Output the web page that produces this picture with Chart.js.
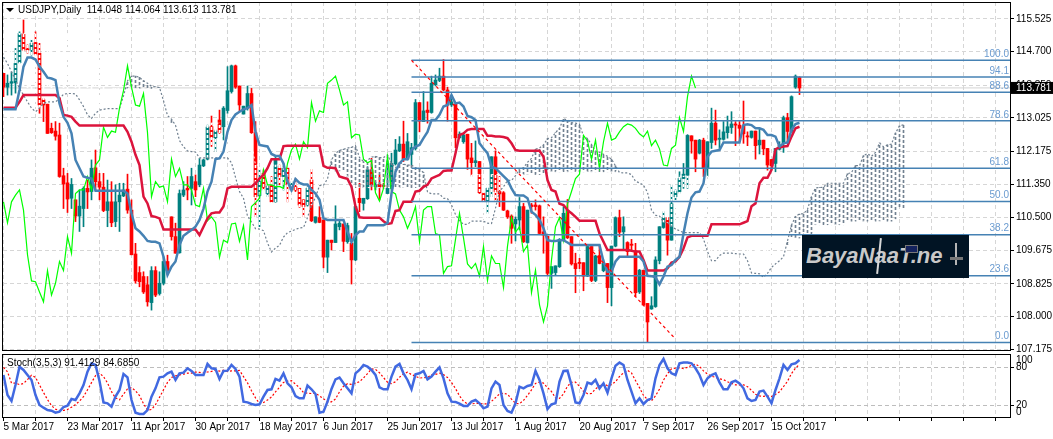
<!DOCTYPE html>
<html>
<head>
<meta charset="utf-8">
<title>USDJPY Daily</title>
<script src="https://cdn.jsdelivr.net/npm/chart.js@4/dist/chart.umd.min.js"></script>
<style>
html, body { margin: 0; padding: 0; background: #fff; overflow: hidden; }
body { width: 1053px; height: 439px; position: relative; font-family: "Liberation Sans", sans-serif; }
canvas { position: absolute; left: 0; }
#mainChart { top: 0; }
#stochChart { top: 352px; }
.label { position: absolute; font-size: 10px; line-height: 12px; color: #000; white-space: pre; }
#arrow { position: absolute; left: 6px; top: 8px; width: 0; height: 0; border-left: 4px solid transparent; border-right: 4px solid transparent; border-top: 4px solid #000; }
#logo { position: absolute; left: 802px; top: 235px; width: 167px; height: 43px; background: #011424; overflow: hidden; }
#logo span { position: absolute; left: 4px; top: 8px; font: italic bold 22px/26px "Liberation Sans", sans-serif; color: #c9c9c9; white-space: pre; }
#logo i { position: absolute; display: block; }
</style>
</head>
<body>
<canvas id="mainChart" width="1053" height="360"></canvas>
<canvas id="stochChart" width="1053" height="87"></canvas>
<div id="arrow"></div>
<div class="label" style="left:18px;top:4px">USDJPY,Daily  114.048 114.064 113.613 113.781</div>
<div class="label" style="left:7px;top:357px">Stoch(3,5,3) 91.4129 84.6850</div>
<div id="logo">
  <span>BayaNaaT.ne</span>
  <i style="left:76px;top:3px;width:2px;height:36px;background:#d8d8d8;transform:rotate(6deg)"></i>
  <i style="left:103px;top:10px;width:11px;height:6px;background:#14235e;border:1px solid #777"></i>
  <i style="left:153px;top:8px;width:2px;height:22px;background:#b5b5b5"></i>
  <i style="left:148px;top:22px;width:13px;height:3px;background:#777"></i>
</div>
<script>
const opens = [
114.15,113.80,113.90,113.91,114.42,115.14,114.77,114.74,114.93,114.66,
113.48,113.37,112.76,112.69,112.59,111.56,111.38,110.99,110.95,110.54,
110.73,111.24,111.16,111.76,111.41,111.27,110.68,110.90,110.40,110.90,
111.05,111.22,110.69,109.58,109.11,109.01,108.80,108.35,109.16,108.58,
108.84,109.39,110.52,110.02,109.61,111.07,111.24,111.24,111.41,111.33,
111.81,111.98,112.80,112.52,112.97,112.80,113.21,113.69,114.34,113.83,
113.12,113.27,113.64,112.65,111.06,111.62,111.11,111.31,110.90,111.75,
111.54,111.75,111.20,111.28,111.24,110.95,110.82,111.45,110.38,110.50,
110.44,109.50,109.93,109.87,110.27,110.34,109.89,109.85,109.43,110.99,
110.86,110.98,111.71,111.28,111.34,111.31,111.11,111.24,111.86,112.19,
112.36,111.98,112.10,112.25,113.41,112.93,113.22,113.16,113.86,113.97,
114.08,113.73,113.35,113.37,112.52,112.42,112.61,112.01,111.89,111.92,
111.11,110.90,111.24,112.04,111.16,111.13,110.67,110.54,110.34,110.44,
110.78,109.87,110.82,110.82,110.80,110.14,110.03,109.09,109.11,109.26,
109.93,110.69,110.02,109.34,109.37,109.36,109.02,109.77,108.91,109.54,
109.16,109.34,108.73,109.78,110.50,110.14,109.87,109.83,109.66,108.62,
109.17,108.33,108.19,108.25,109.41,110.25,110.50,109.93,111.03,111.16,
111.49,111.57,112.57,112.46,112.13,112.46,111.76,112.40,112.89,112.48,
112.48,112.65,112.78,112.87,112.84,112.82,112.57,112.53,112.69,112.34,
112.46,112.25,111.97,111.87,112.23,112.38,113.03,112.68,113.80,114.048];

const highs = [
114.15,114.11,114.19,114.78,115.20,115.50,114.87,114.99,115.20,114.91,
113.52,113.37,112.89,112.93,112.89,111.75,111.62,111.49,110.95,111.20,
111.28,111.45,111.96,112.21,111.62,111.62,111.45,111.41,111.33,111.37,
111.37,111.60,110.95,109.85,109.26,109.13,109.01,109.26,109.26,109.13,
109.51,109.55,110.52,110.36,111.20,111.41,111.54,111.75,111.58,112.00,
111.98,112.84,113.07,112.72,113.22,113.31,114.32,114.36,114.36,113.83,
113.32,113.83,113.77,112.93,111.71,111.71,111.33,111.54,112.04,111.83,
111.87,111.75,111.41,111.49,111.24,110.95,111.28,111.72,110.52,110.78,
110.44,109.93,109.93,110.80,110.44,110.34,110.36,110.10,110.78,111.37,
110.99,111.79,112.00,111.40,111.58,111.37,111.92,112.13,112.48,112.55,
112.94,112.63,112.38,113.49,113.41,113.69,113.43,114.08,114.11,114.28,
114.50,113.80,113.60,113.37,112.67,112.63,112.61,112.38,112.44,111.92,
111.13,111.26,112.04,112.19,111.54,111.16,110.69,110.57,110.52,111.01,
110.86,110.69,110.86,110.95,110.82,110.52,110.03,109.26,109.28,109.97,
110.78,110.96,110.02,109.60,109.47,109.36,109.78,109.77,109.55,109.81,
109.43,109.34,109.78,110.52,110.69,110.52,109.89,109.95,109.85,109.19,
109.17,108.33,108.50,109.51,110.27,110.65,110.50,111.33,111.20,111.66,
111.87,112.60,112.57,112.46,112.48,112.51,112.42,113.27,113.22,112.72,
112.93,113.07,113.18,112.93,112.93,113.45,112.67,112.69,112.69,112.76,
112.46,112.25,111.97,112.25,112.42,113.07,113.14,113.58,114.11,114.064];

const lows = [
113.56,113.60,113.60,113.65,114.40,114.72,114.66,114.61,114.61,113.14,
112.93,112.63,112.63,112.46,111.52,110.73,110.63,110.73,110.40,110.15,
110.27,110.73,110.95,111.20,110.95,110.65,110.27,110.27,110.27,110.15,
111.03,110.61,109.56,108.84,108.75,108.58,108.26,108.16,108.50,108.54,
108.80,109.05,109.93,109.60,109.60,111.03,110.95,110.82,111.03,111.28,
111.79,111.96,112.30,112.17,112.63,112.46,113.14,113.65,113.77,113.18,
113.12,113.22,112.63,110.52,110.27,111.20,111.03,110.89,110.89,111.33,
111.20,110.90,111.16,111.16,110.76,110.52,110.79,110.40,110.36,110.37,
109.23,109.11,109.68,109.87,110.19,109.64,109.85,108.82,109.41,110.65,
110.69,110.96,111.20,111.20,110.95,111.24,111.11,111.22,111.83,112.17,
111.92,111.96,111.83,112.21,112.67,112.93,112.89,113.14,113.83,113.94,
113.71,112.94,113.31,112.27,112.51,112.38,111.72,111.55,111.79,111.11,
110.90,110.61,111.03,110.90,110.78,110.68,110.48,109.85,109.91,110.19,
109.87,109.85,110.61,110.69,110.09,109.60,109.05,108.71,109.05,109.24,
109.93,109.97,109.30,108.60,109.21,108.65,109.01,108.88,108.88,109.33,
109.13,108.35,108.27,109.76,110.02,109.68,109.51,109.68,108.50,108.58,
108.29,107.36,108.18,108.23,109.33,110.23,109.55,109.93,110.95,111.12,
111.24,111.24,112.13,111.66,112.11,111.54,111.54,112.25,112.34,112.21,
112.46,112.51,112.63,112.32,112.42,112.38,112.32,112.51,111.98,112.11,
112.09,111.70,111.72,111.66,112.21,112.15,112.38,112.66,113.77,113.613];

const closes = [
113.80,113.90,113.94,114.40,115.16,114.74,114.74,114.91,114.64,113.35,
113.35,112.63,112.65,112.56,111.54,111.35,110.97,111.34,110.54,110.79,
111.24,111.15,111.75,111.41,111.27,110.68,110.90,110.37,110.90,111.07,
111.20,110.69,109.56,108.90,108.88,108.62,108.37,109.16,108.54,108.84,
109.39,109.16,110.02,109.60,111.11,111.20,111.20,111.54,111.20,111.83,
111.96,112.79,112.53,112.69,112.66,113.27,113.71,114.34,113.80,113.35,
113.32,113.64,112.65,111.03,111.41,111.27,111.30,110.90,111.98,111.54,
111.75,111.33,111.33,111.20,110.82,110.78,111.24,110.42,110.52,110.38,
109.50,109.93,109.87,110.34,110.36,109.90,110.30,109.43,110.78,110.88,
110.99,111.71,111.33,111.33,111.28,111.29,111.24,111.87,112.21,112.36,
111.98,112.42,112.27,113.41,112.94,113.20,113.16,113.90,113.98,114.08,
113.73,113.35,113.43,112.52,112.61,112.59,111.98,111.89,111.94,111.13,
110.92,111.24,112.04,111.16,111.10,110.69,110.52,110.23,110.46,110.78,
109.89,110.69,110.78,110.78,110.10,110.06,109.09,109.26,109.28,109.95,
110.61,109.99,109.33,109.21,109.34,109.02,109.77,108.91,109.53,109.34,
109.34,108.73,109.78,110.50,110.13,110.27,109.64,109.80,108.60,109.17,
108.29,107.86,108.27,109.43,110.27,110.50,109.93,110.85,111.16,111.49,
111.60,112.58,112.44,111.98,112.46,111.76,112.42,112.89,112.46,112.51,
112.67,112.80,112.87,112.84,112.76,112.62,112.54,112.69,112.32,112.46,
112.24,111.83,111.81,112.25,112.33,113.03,112.68,113.56,114.08,113.781];

const tenkan = [
113.24,113.24,113.24,113.24,113.73,114.32,114.55,114.55,114.50,114.32,
114.19,114.04,114.02,113.98,113.39,113.05,112.90,112.63,111.96,111.75,
111.54,111.51,111.49,111.18,111.18,111.18,111.18,111.18,111.18,111.18,
111.18,111.11,110.61,110.23,110.15,110.04,109.91,109.89,109.89,109.85,
109.51,109.05,109.26,109.39,109.81,110.04,110.12,110.19,110.27,110.44,
110.73,111.16,111.41,111.98,112.00,112.17,112.67,112.97,113.11,113.18,
113.24,113.27,113.35,112.67,112.34,112.32,112.30,112.11,112.06,112.06,
111.87,111.41,111.20,111.48,111.38,111.34,111.34,111.20,111.11,110.95,
110.48,110.44,110.44,110.44,110.44,110.44,110.15,109.88,110.06,110.15,
110.15,110.31,110.31,110.31,110.31,110.31,110.36,111.11,111.66,111.87,
111.98,111.98,112.21,112.30,112.34,112.51,112.67,112.97,112.97,113.10,
113.31,113.35,113.60,113.39,113.41,113.31,113.07,113.04,112.97,112.38,
112.25,112.13,111.79,111.75,111.65,111.55,111.45,111.24,111.07,111.06,
111.06,110.99,110.65,110.57,110.44,110.23,109.93,109.91,109.91,109.93,
109.93,109.87,109.81,109.81,109.81,109.81,109.81,109.81,109.81,109.81,
109.39,109.13,109.13,109.39,109.51,109.51,109.51,109.51,109.51,109.51,
109.39,109.03,109.02,108.99,108.81,109.01,109.26,109.30,109.43,109.51,
110.10,110.61,111.01,111.14,111.16,111.37,112.04,112.17,112.19,112.21,
112.40,112.40,112.40,112.40,112.40,112.84,112.86,112.84,112.76,112.76,
112.72,112.59,112.59,112.55,112.30,112.38,112.40,112.72,112.87,112.90];

const kijun = [
113.28,113.28,113.28,113.28,113.43,113.60,113.60,113.60,113.60,113.60,
113.60,113.60,113.60,113.60,113.52,113.10,113.08,113.05,112.93,112.83,
112.83,112.83,112.83,112.83,112.83,112.83,112.83,112.83,112.83,112.83,
112.83,112.67,112.42,112.09,111.83,111.03,110.86,110.54,110.52,110.48,
110.20,110.20,110.20,110.20,110.20,110.20,110.20,110.20,110.20,110.06,
110.27,110.48,110.61,110.63,110.63,110.78,111.24,111.28,111.28,111.28,
111.28,111.28,111.28,111.37,111.49,111.58,111.75,111.98,111.98,111.98,
112.31,112.32,112.32,112.32,112.32,112.32,112.32,112.32,112.32,112.32,
111.81,111.76,111.76,111.75,111.54,111.51,111.48,111.28,110.78,110.51,
110.50,110.50,110.50,110.50,110.50,110.41,110.34,110.36,110.67,110.69,
110.90,110.90,110.90,111.16,111.18,111.28,111.33,111.49,111.54,111.58,
111.68,111.69,111.69,112.13,112.59,112.63,112.72,112.74,112.74,112.74,
112.74,112.57,112.57,112.55,112.55,112.54,112.51,112.38,112.21,112.19,
112.19,112.19,112.19,112.19,112.19,112.04,111.45,111.20,111.16,110.85,
110.82,110.69,110.61,110.52,110.42,110.42,110.42,110.42,110.42,110.10,
109.89,109.68,109.68,109.68,109.68,109.68,109.68,109.66,109.64,109.64,
109.43,109.16,109.16,109.16,109.16,109.16,109.22,109.36,109.39,109.51,
109.72,110.00,110.04,110.04,110.04,110.04,110.04,110.33,110.33,110.33,
110.33,110.33,110.33,110.33,110.33,110.37,110.41,110.79,110.86,111.37,
111.51,111.51,111.71,112.23,112.28,112.30,112.31,112.55,112.76,112.80];

const chikou = [
110.90,110.37,110.90,111.07,
111.20,110.69,109.56,108.90,108.88,108.62,108.37,109.16,108.54,108.84,
109.39,109.16,110.02,109.60,111.11,111.20,111.20,111.54,111.20,111.83,
111.96,112.79,112.53,112.69,112.66,113.27,113.71,114.34,113.80,113.35,
113.32,113.64,112.65,111.03,111.41,111.27,111.30,110.90,111.98,111.54,
111.75,111.33,111.33,111.20,110.82,110.78,111.24,110.42,110.52,110.38,
109.50,109.93,109.87,110.34,110.36,109.90,110.30,109.43,110.78,110.88,
110.99,111.71,111.33,111.33,111.28,111.29,111.24,111.87,112.21,112.36,
111.98,112.42,112.27,113.41,112.94,113.20,113.16,113.90,113.98,114.08,
113.73,113.35,113.43,112.52,112.61,112.59,111.98,111.89,111.94,111.13,
110.92,111.24,112.04,111.16,111.10,110.69,110.52,110.23,110.46,110.78,
109.89,110.69,110.78,110.78,110.10,110.06,109.09,109.26,109.28,109.95,
110.61,109.99,109.33,109.21,109.34,109.02,109.77,108.91,109.53,109.34,
109.34,108.73,109.78,110.50,110.13,110.27,109.64,109.80,108.60,109.17,
108.29,107.86,108.27,109.43,110.27,110.50,109.93,110.85,111.16,111.49,
111.60,112.58,112.44,111.98,112.46,111.76,112.42,112.89,112.46,112.51,
112.67,112.80,112.87,112.84,112.76,112.62,112.54,112.69,112.32,112.46,
112.24,111.83,111.81,112.25,112.33,113.03,112.68,113.56,114.08,113.781];

const spanA = [
114.56,114.40,114.19,113.98,113.77,113.60,113.43,113.27,113.18,113.27,
113.39,113.43,113.43,113.43,113.50,113.62,113.64,113.64,113.63,113.48,
113.31,113.10,113.01,113.14,113.22,113.24,
113.26,113.26,113.26,113.26,113.58,113.96,114.08,114.08,114.05,113.96,
113.90,113.82,113.81,113.79,113.46,113.08,112.99,112.84,112.45,112.29,
112.19,112.17,112.16,112.01,112.01,112.01,112.01,112.01,112.01,112.01,
112.01,111.89,111.52,111.16,110.99,110.54,110.39,110.22,110.21,110.17,
109.86,109.63,109.73,109.80,110.01,110.12,110.16,110.20,110.24,110.25,
110.50,110.82,111.01,111.31,111.32,111.48,111.96,112.13,112.20,112.23,
112.26,112.28,112.32,112.02,111.92,111.95,112.03,112.05,112.02,112.02,
112.09,111.87,111.76,111.90,111.85,111.83,111.83,111.76,111.72,111.64,
111.15,111.10,111.10,111.10,110.99,110.98,110.82,110.58,110.42,110.33,
110.33,110.41,110.41,110.41,110.41,110.36,110.35,110.74,111.17,111.28,
111.44,111.44,111.56,111.73,111.76,111.90,112.00,112.23,112.26,112.34,
112.50,112.52,112.65,112.76,113.00,112.97,112.90,112.89,112.86,112.56,
112.50,112.35,112.18,112.15,112.10,112.05,111.98,111.81,111.64,111.63,
111.63,111.59,111.42,111.38,111.32,111.14,110.69,110.56,110.54,110.39,
110.38,110.28,110.21,110.17,110.12,110.12,110.12,110.12,110.12,109.96,
109.64,109.41,109.41,109.54,109.60,109.60,109.60,109.59,109.58,109.58,
109.41,109.10,109.09,109.08,108.99,109.09,109.24,109.33,109.41,109.51,
109.91,110.31,110.53,110.59,110.60,110.71,111.04,111.25,111.26,111.27,
111.37,111.37,111.37,111.37,111.37,111.61,111.64,111.82,111.81,112.07,
112.12,112.05,112.15,112.39,112.29,112.34,112.36,112.64,112.82,112.85];

const spanB = [
115.16,115.16,115.16,115.16,115.16,115.16,115.16,115.16,115.16,115.16,
115.16,115.16,115.16,115.16,115.16,115.16,115.16,115.16,115.16,115.16,
115.16,115.16,115.16,115.16,115.16,115.16,115.16,113.77,113.77,113.77,
113.77,113.77,113.77,113.77,113.77,113.77,113.77,113.77,113.77,113.77,
113.77,113.77,112.89,112.89,112.89,112.89,112.89,112.89,112.89,112.89,
112.89,112.89,112.89,112.89,112.89,112.38,112.38,112.38,112.38,112.38,
112.38,112.38,112.38,111.83,111.83,111.83,111.83,111.83,111.83,111.83,
111.83,111.83,111.83,111.83,111.83,111.83,111.83,111.83,111.83,111.83,
111.83,111.83,111.83,111.68,111.68,111.68,111.54,111.26,111.26,111.26,
111.26,111.26,111.26,111.26,111.26,111.26,111.26,111.26,111.26,111.26,
111.26,111.26,111.26,111.26,111.26,111.26,111.26,111.26,111.26,111.26,
111.26,111.26,111.26,111.26,111.26,111.43,111.45,111.58,111.59,111.59,
111.59,111.59,111.59,111.59,111.59,111.59,111.59,111.59,111.59,111.59,
111.59,111.59,111.59,111.59,111.59,111.59,111.66,111.66,111.66,111.66,
111.66,111.66,111.66,111.66,111.66,111.66,111.66,111.66,111.66,111.66,
111.66,111.66,111.66,111.66,111.66,111.66,111.66,111.66,111.66,111.66,
111.66,111.66,111.66,111.66,111.66,111.60,111.60,111.60,111.60,111.55,
111.55,111.55,111.55,111.55,111.55,111.55,111.55,111.43,111.39,111.39,
111.39,111.39,111.39,111.39,111.39,111.39,111.39,110.93,110.58,110.48,
110.37,110.02,110.00,109.99,109.90,109.90,109.78,109.98,109.98,109.98,
109.98,109.98,109.98,110.32,110.32,110.32,110.32,110.32,110.32,110.32,
110.32,110.41,110.41,110.41,110.41,110.41,110.41,110.41,110.41,110.41,
110.41,110.41,110.41,110.47,110.74,110.74];

const stochMain = [
67.9,36.3,26.8,52.1,81.0,75.8,67.9,60.0,36.3,20.5,
16.3,12.6,11.6,8.4,10.0,17.4,19.5,30.0,28.4,38.9,
52.1,73.2,86.3,83.7,58.4,24.7,23.2,17.9,33.7,44.2,
69.5,64.2,28.4,8.4,6.3,6.3,12.6,33.7,46.8,64.2,
65.3,70.5,73.2,60.0,70.5,71.6,78.4,74.2,67.9,67.9,
67.9,85.3,78.4,77.4,61.6,74.2,74.7,83.7,77.4,65.3,
25.8,24.7,22.1,20.5,21.6,33.7,44.2,45.3,61.6,58.9,
70.5,54.7,48.4,34.7,31.0,31.0,51.1,45.3,37.9,8.4,
10.0,25.8,45.8,61.0,63.7,54.7,46.8,38.9,70.5,75.8,
83.7,81.0,75.8,67.9,48.4,45.3,45.3,65.3,81.0,85.3,
70.5,60.0,45.3,68.9,70.5,74.2,61.0,65.3,73.2,80.0,
62.6,38.9,25.8,25.3,22.6,19.0,19.0,25.8,28.4,23.2,
15.3,17.9,46.8,57.4,52.1,20.5,11.0,8.4,23.2,49.5,
46.8,50.5,52.1,74.2,60.0,38.9,14.2,21.6,23.2,57.4,
74.2,74.7,52.1,24.7,23.2,36.3,55.8,53.7,60.0,46.8,
54.7,40.0,62.6,82.6,87.4,83.7,60.0,41.6,23.2,31.0,
22.1,28.4,31.0,62.6,83.7,93.2,78.4,70.5,67.9,86.3,
87.4,87.4,86.3,78.4,67.9,52.1,62.6,67.9,70.5,56.3,
45.3,45.3,56.3,58.9,54.7,46.8,31.0,26.8,28.4,41.6,
43.2,33.7,23.2,44.2,62.6,83.7,75.8,84.7,86.3,91.41];

const stochSignal = [
80.0,73.0,55.0,55.0,52.8,54.4,60.7,67.4,64.2,52.1,
40.2,29.1,19.5,13.9,11.8,12.0,13.4,17.1,21.1,26.8,
33.8,44.5,55.8,66.8,70.7,65.3,55.3,41.6,31.6,28.7,
37.7,45.9,48.0,42.9,35.3,22.7,12.4,13.5,21.0,32.6,
44.5,56.1,64.0,66.6,67.9,69.2,70.7,70.9,72.5,72.0,
71.3,72.6,73.5,75.4,74.1,75.4,73.3,74.3,74.3,75.1,
65.4,55.4,43.1,31.7,22.9,24.5,28.4,33.1,41.3,48.7,
56.1,58.2,58.8,53.4,47.9,40.0,39.2,38.6,39.3,34.7,
30.5,25.5,25.6,30.0,41.3,50.2,54.2,53.0,54.9,57.3,
63.1,70.0,77.4,76.8,71.4,63.7,56.5,54.4,57.1,64.4,
69.5,72.4,68.4,66.0,63.0,63.8,64.0,68.0,68.8,70.7,
68.4,64.0,56.1,46.5,35.0,26.3,22.3,22.3,23.0,23.1,
22.3,22.1,26.3,32.1,37.9,38.9,37.6,29.9,23.0,22.5,
27.8,35.7,44.4,54.6,56.7,55.1,47.9,41.8,31.6,31.1,
38.1,50.2,56.3,56.6,49.8,42.2,38.4,38.7,45.8,50.5,
54.2,51.0,52.8,57.3,65.5,71.3,75.3,71.1,59.2,47.9,
35.6,29.3,27.1,35.0,45.6,59.8,69.8,77.7,78.7,79.3,
78.1,79.9,83.1,85.2,81.5,74.4,69.4,65.8,64.2,61.9,
60.5,57.1,54.7,52.4,52.1,52.4,49.5,43.6,37.5,34.9,
34.2,34.7,34.0,37.2,41.4,49.5,57.9,70.2,78.6,84.685];

const fibValues = [114.48, 114.06, 113.67, 112.95, 111.75, 110.91, 110.07, 109.03, 107.34];
const fibLabels = ['100.0', '94.1', '88.6', '78.6', '61.8', '50.0', '38.2', '23.6', '0.0'];
const fibStartBar = 102;
const trendBars = [102, 168];
const trendPrices = [114.48, 107.43];

const priceTicks = [115.525, 114.7, 113.85, 113.025, 112.175, 111.35, 110.5, 109.675, 108.825, 108, 107.175];
const stochTicks = [80, 20];
const stochEdgeLabels = ['100', '0'];
const dateLabels = ['5 Mar 2017', '23 Mar 2017', '11 Apr 2017', '30 Apr 2017', '18 May 2017', '6 Jun 2017', '25 Jun 2017',
    '13 Jul 2017', '1 Aug 2017', '20 Aug 2017', '7 Sep 2017', '26 Sep 2017', '15 Oct 2017'];
const lastPriceText = '113.781';

const FONT = '10px "Liberation Sans", sans-serif';
const X_MIN = -0.125, X_MAX = 251.875;
const TEAL = '#008080', RED = '#ff0000';

Chart.defaults.animation = false;
Chart.defaults.font.family = '"Liberation Sans", sans-serif';
Chart.defaults.font.size = 10;
Chart.defaults.color = '#000';

const gridBars = Array.from({ length: 32 }, (_, i) => i * 8);

// dotted cloud columns, three phases so the dots do not line up in rows
function hatch(color) {
    return [0, 2, 4].map(shift => {
        const c = document.createElement('canvas');
        c.width = 1;
        c.height = 5;
        const g = c.getContext('2d');
        g.fillStyle = color;
        g.fillRect(0, shift, 1, 1);
        g.fillRect(0, (shift + 1) % 5, 1, 1);
        g.fillRect(0, (shift + 2) % 5, 1, 1);
        return g.createPattern(c, 'repeat');
    });
}

function pts(arr) {
    return arr.map((y, x) => ({ x, y }));
}

function xAxis(showLabels) {
    return {
        type: 'linear', min: X_MIN, max: X_MAX, offset: false,
        afterBuildTicks: s => { s.ticks = gridBars.map(value => ({ value })); },
        afterFit: s => { s.height = showLabels ? 21 : 0; s.paddingLeft = 0; s.paddingRight = 0; },
        grid: { offset: false, color: '#d6d6d6', drawTicks: showLabels, tickLength: 3, tickColor: '#000', tickBorderDash: [] },
        border: { display: false, dash: [4, 3] },
        ticks: {
            display: showLabels, autoSkip: false, maxRotation: 0, align: 'start', padding: 0, font: { size: 10 },
            callback: v => (v % 16 === 0 && dateLabels[v / 16]) || ''
        }
    };
}

function yAxis(min, max, ticks, fmt, gridColor) {
    return {
        position: 'right', min, max,
        afterBuildTicks: s => { s.ticks = ticks.map(value => ({ value })); },
        afterFit: s => { s.width = 42; s.paddingTop = 0; s.paddingBottom = 0; },
        grid: { color: gridColor, tickLength: 3, tickColor: '#000', tickBorderDash: [] },
        border: { display: false, dash: [4, 3] },
        ticks: { autoSkip: false, padding: 2, callback: fmt }
    };
}

function frame(chart) {
    const a = chart.chartArea, g = chart.ctx;
    g.save();
    g.strokeStyle = '#000';
    g.lineWidth = 1;
    g.strokeRect(a.left - 0.5, a.top + 0.5, a.right - a.left, a.bottom - a.top - 1);
    g.restore();
}

const mainOverlay = {
    id: 'mainOverlay',
    afterDraw(chart) {
        frame(chart);
        const g = chart.ctx, y = chart.scales.y, a = chart.chartArea;
        g.save();
        g.font = FONT;
        g.textAlign = 'right';
        g.textBaseline = 'bottom';
        g.fillStyle = '#6a9bd0';
        fibValues.forEach((v, i) => g.fillText(fibLabels[i], a.right - 2, y.getPixelForValue(v) - 1));
        const py = y.getPixelForValue(closes[closes.length - 1]);
        g.fillStyle = '#000';
        g.fillRect(a.right, py - 6, 42, 12);
        g.fillStyle = '#fff';
        g.textAlign = 'left';
        g.textBaseline = 'middle';
        g.fillText(lastPriceText, a.right + 5, py + 0.5);
        g.restore();
    }
};

const stochOverlay = {
    id: 'stochOverlay',
    afterDraw(chart) {
        frame(chart);
        const g = chart.ctx, y = chart.scales.y, a = chart.chartArea;
        g.save();
        g.font = FONT;
        g.fillStyle = '#000';
        g.textBaseline = 'middle';
        g.fillText(stochEdgeLabels[0], a.right + 5, y.getPixelForValue(100) + 6);
        g.fillText(stochEdgeLabels[1], a.right + 5, y.getPixelForValue(0) - 6);
        g.restore();
    }
};

const bodyColors = closes.map((c, i) => (c >= opens[i] ? TEAL : RED));
const cloudPoints = spanB.map((b, x) => ({ x, y: [spanA[x], b], up: spanA[x] >= b }));
const greyHatch = hatch('#708090');
const whiteHatch = hatch('#ffffff');
const cloudUp = cloudPoints.filter(p => p.up);
const cloudDown = cloudPoints.filter(p => !p.up);

function priceLine(data, color, width, order, dash) {
    return { type: 'line', data, borderColor: color, borderWidth: width, borderDash: dash || [], pointRadius: 0, tension: 0, order };
}

function fibLines() {
    return fibValues.map(v => priceLine([{ x: fibStartBar, y: v }, { x: X_MAX, y: v }], '#4682b4', 1.5, 1));
}

new Chart(document.getElementById('mainChart'), {
    data: {
        datasets: [
            ...fibLines(),
            priceLine(trendBars.map((x, i) => ({ x, y: trendPrices[i] })), '#ff0000', 1.2, 0, [3, 3]),
            priceLine(pts(tenkan), '#4682b4', 2.5, 2),
            priceLine(pts(kijun), '#dc143c', 2.5, 3),
            priceLine(pts(chikou), '#00ff00', 1.2, 4),
            priceLine(pts(spanA), '#708090', 1.2, 5, [2, 2]),
            priceLine(pts(spanB), '#ffffff', 1, 5, [2, 3]),
            { type: 'bar', data: cloudUp, backgroundColor: cloudUp.map(p => greyHatch[p.x % 3]), barThickness: 1, maxBarThickness: 1, grouped: false, order: 6 },
            { type: 'bar', data: cloudDown, backgroundColor: cloudDown.map(p => whiteHatch[p.x % 3]), barThickness: 1, maxBarThickness: 1, grouped: false, order: 6 },
            { type: 'bar', data: closes.map((c, x) => ({ x, y: [c, opens[x]] })), backgroundColor: bodyColors, barThickness: 3, maxBarThickness: 3, minBarLength: 1, grouped: false, order: 7 },
            { type: 'bar', data: highs.map((h, x) => ({ x, y: [lows[x], h] })), backgroundColor: bodyColors, barThickness: 1, maxBarThickness: 1, grouped: false, order: 8 },
            priceLine([{ x: X_MIN, y: closes[closes.length - 1] }, { x: X_MAX, y: closes[closes.length - 1] }], '#d3d3d3', 1, 9)
        ]
    },
    options: {
        responsive: false,
        devicePixelRatio: 1,
        layout: { padding: { left: 3, top: 2, right: 0, bottom: 9 } },
        plugins: { legend: { display: false }, tooltip: { enabled: false } },
        scales: {
            x: xAxis(false),
            y: yAxis(107.126, 115.955, priceTicks, v => v.toFixed(3), '#d6d6d6')
        }
    },
    plugins: [mainOverlay]
});

new Chart(document.getElementById('stochChart'), {
    data: {
        datasets: [
            priceLine(pts(stochMain), '#4169e1', 2.5, 1),
            priceLine(pts(stochSignal), '#ff0000', 1.2, 2, [2, 2])
        ]
    },
    options: {
        responsive: false,
        devicePixelRatio: 1,
        layout: { padding: { left: 3, top: 2, right: 0, bottom: 0 } },
        plugins: { legend: { display: false }, tooltip: { enabled: false } },
        scales: {
            x: xAxis(true),
            y: yAxis(0, 101, stochTicks, v => String(v), '#bdbdbd')
        }
    },
    plugins: [stochOverlay]
});
</script>
</body>
</html>
